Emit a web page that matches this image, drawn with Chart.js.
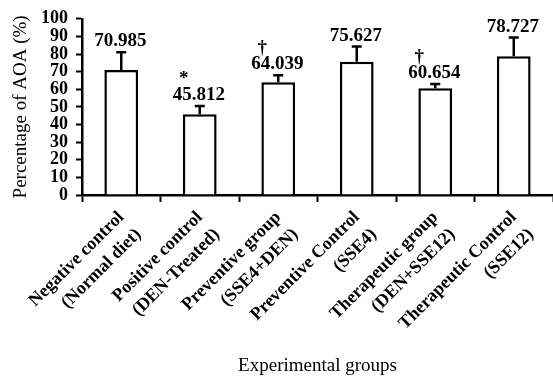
<!DOCTYPE html>
<html>
<head>
<meta charset="utf-8">
<script src="https://cdn.jsdelivr.net/npm/chart.js@4.4.1/dist/chart.umd.min.js"></script>
<style>
    html, body { margin: 0; padding: 0; background: #fff; }
</style>
</head>
<body>
<canvas id="aoaChart" width="553" height="381"></canvas>
<script>
// Groups (two-line labels), AOA values, error (upper SD) and significance marks
const groups = [
    ['Negative control', '(Normal diet)'],
    ['Positive control', '(DEN-Treated)'],
    ['Preventive group', '(SSE4+DEN)'],
    ['Preventive Control', '(SSE4)'],
    ['Therapeutic group', '(DEN+SSE12)'],
    ['Therapeutic Control', '(SSE12)']
];
const aoaPercent = [70.985, 45.812, 64.039, 75.627, 60.654, 78.727];
const aoaError = [10.0, 4.7, 3.9, 8.6, 2.4, 10.6];
const significance = ['', '*', '\u2020', '', '\u2020', ''];
const yMin = 0;
const yMax = 100;
const yStep = 10;

const serif = '"Liberation Serif", "Times New Roman", serif';

// Draws the error bars and the value labels above them
const errorBarPlugin = {
    id: 'errorBars',
    afterDatasetsDraw(chart) {
        const ctx = chart.ctx;
        const meta = chart.getDatasetMeta(0);
        const yScale = chart.scales.y;
        ctx.save();
        ctx.strokeStyle = '#000';
        ctx.fillStyle = '#000';
        ctx.lineWidth = 2.5;
        meta.data.forEach((bar, i) => {
            const top = yScale.getPixelForValue(aoaPercent[i] + aoaError[i]);
            ctx.beginPath();
            ctx.moveTo(bar.x, bar.y);
            ctx.lineTo(bar.x, top);
            ctx.moveTo(bar.x - 5, top);
            ctx.lineTo(bar.x + 5, top);
            ctx.stroke();

            const label = aoaPercent[i].toFixed(3);
            ctx.font = 'bold 19px ' + serif;
            ctx.textAlign = 'center';
            ctx.textBaseline = 'alphabetic';
            ctx.fillText(label, bar.x - 1, top - 6);
            if (significance[i]) {
                const w = ctx.measureText(label).width;
                ctx.fillText(significance[i], bar.x - 1 - w / 2 + 11, top - 22);
            }
        });
        ctx.restore();
    }
};

new Chart(document.getElementById('aoaChart').getContext('2d'), {
    type: 'bar',
    data: {
        labels: groups,
        datasets: [{
            data: aoaPercent,
            backgroundColor: '#fff',
            borderColor: '#000',
            borderWidth: 2.5,
            barPercentage: 0.43,
            categoryPercentage: 1
        }]
    },
    options: {
        responsive: false,
        animation: false,
        layout: { padding: { top: 16, left: 0, right: 0, bottom: 0 } },
        plugins: {
            legend: { display: false },
            tooltip: { enabled: false }
        },
        scales: {
            x: {
                afterFit: scale => { scale.height = 186; },
                border: { color: '#000', width: 2.5 },
                grid: {
                    offset: true,
                    drawOnChartArea: false,
                    tickLength: 7,
                    tickWidth: 2,
                    tickColor: '#000'
                },
                ticks: {
                    autoSkip: false,
                    maxRotation: 45,
                    minRotation: 45,
                    padding: 4,
                    color: '#000',
                    font: { family: serif, size: 18, weight: 'bold', lineHeight: 1.35 }
                },
                title: {
                    display: true,
                    text: 'Experimental groups',
                    color: '#000',
                    padding: { top: 0, bottom: 4 },
                    font: { family: serif, size: 19, weight: 'normal' }
                }
            },
            y: {
                min: yMin,
                max: yMax,
                afterFit: scale => { scale.width = 82; },
                border: { color: '#000', width: 2.5 },
                grid: {
                    drawOnChartArea: false,
                    tickLength: 6,
                    tickWidth: 2,
                    tickColor: '#000'
                },
                ticks: {
                    stepSize: yStep,
                    autoSkip: false,
                    padding: 8,
                    color: '#000',
                    font: { family: serif, size: 18, weight: 'bold' }
                },
                title: {
                    display: true,
                    text: 'Percentage of AOA (%)',
                    color: '#000',
                    padding: { top: 10, bottom: 0 },
                    font: { family: serif, size: 19, weight: 'normal' }
                }
            }
        }
    },
    plugins: [errorBarPlugin]
});
</script>
</body>
</html>
